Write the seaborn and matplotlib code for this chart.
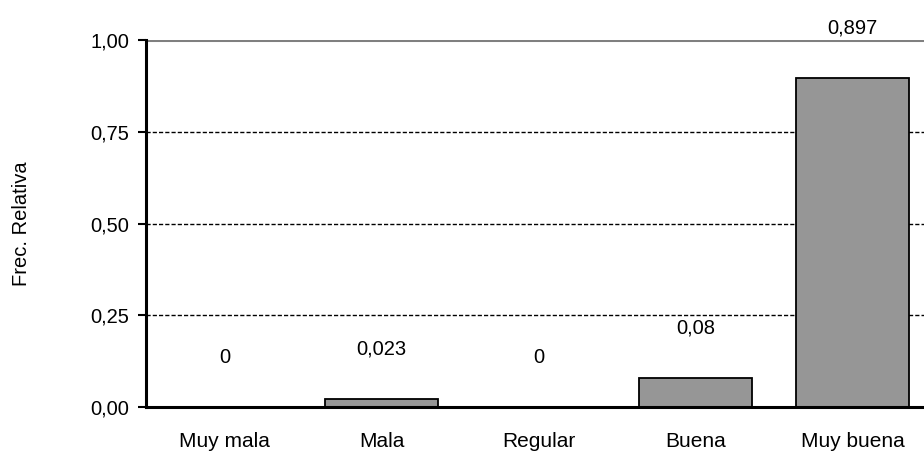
import numpy as np
import pandas as pd
import matplotlib
matplotlib.use("Agg")
import matplotlib.pyplot as plt
import seaborn as sns
from matplotlib.ticker import FuncFormatter, FixedLocator

# Data
categories = ["Muy mala", "Mala", "Regular", "Buena", "Muy buena"]
frec_relativa = [0.0, 0.023, 0.0, 0.08, 0.897]
value_labels = ["0", "0,023", "0", "0,08", "0,897"]
y_ticks = [0.0, 0.25, 0.50, 0.75, 1.00]

sns.set_style("white")
plt.rcParams["font.family"] = ["Liberation Sans", "DejaVu Sans"]
plt.rcParams["text.color"] = "black"
plt.rcParams["axes.labelcolor"] = "black"
plt.rcParams["xtick.color"] = "black"
plt.rcParams["ytick.color"] = "black"
FS = 14.5

df = pd.DataFrame({"categoria": categories, "frec": frec_relativa})

fig = plt.figure(figsize=(9.24, 4.57), dpi=100)
# right edge of the plot area runs past the figure, as in the reference
ax = fig.add_axes([146 / 924, 50 / 457, 785 / 924, 367 / 457])

sns.barplot(data=df, x="categoria", y="frec", ax=ax, color="#969696",
            saturation=1, width=0.72, edgecolor="black", linewidth=1.3,
            zorder=3)

# grid lines behind the bars
for yv in y_ticks[1:-1]:
    ax.axhline(yv, color="black", linestyle=(0, (3, 1.5)), linewidth=1.0, zorder=1)
ax.axhline(1.0, color="#808080", linewidth=2.2, zorder=1)

ax.set_ylim(0, 1.0)
ax.set_xlim(-0.5, 4.5)
ax.yaxis.set_major_locator(FixedLocator(y_ticks))
ax.yaxis.set_major_formatter(FuncFormatter(lambda v, p: f"{v:.2f}".replace(".", ",")))

ax.set_xticks(range(len(categories)))
ax.set_xticklabels(categories)
ax.set_xticks([i + 0.5 for i in range(len(categories) - 1)], minor=True)
ax.tick_params(axis="x", which="major", length=0, pad=18, labelsize=15)
ax.tick_params(axis="x", which="minor", length=5, width=1.5, direction="out", color="black")
ax.tick_params(axis="y", length=6, width=1.5, direction="out", color="black", labelsize=FS, pad=6)
ax.tick_params(axis="both", bottom=True, left=True)

ax.set_xlabel("")
ax.set_ylabel("Frec. Relativa", fontsize=FS)
ax.yaxis.set_label_coords((31 - 146) / 785, 0.5)

for side in ["top", "right"]:
    ax.spines[side].set_visible(False)
for side in ["left", "bottom"]:
    ax.spines[side].set_color("black")
    ax.spines[side].set_linewidth(2.2)
    ax.spines[side].set_zorder(4)

for i, (v, lab) in enumerate(zip(frec_relativa, value_labels)):
    ax.annotate(lab, xy=(i, v), xytext=(0, 35.5), textcoords="offset points",
                ha="center", va="center", fontsize=FS, clip_on=False)

fig.savefig("out.png", dpi=100)
